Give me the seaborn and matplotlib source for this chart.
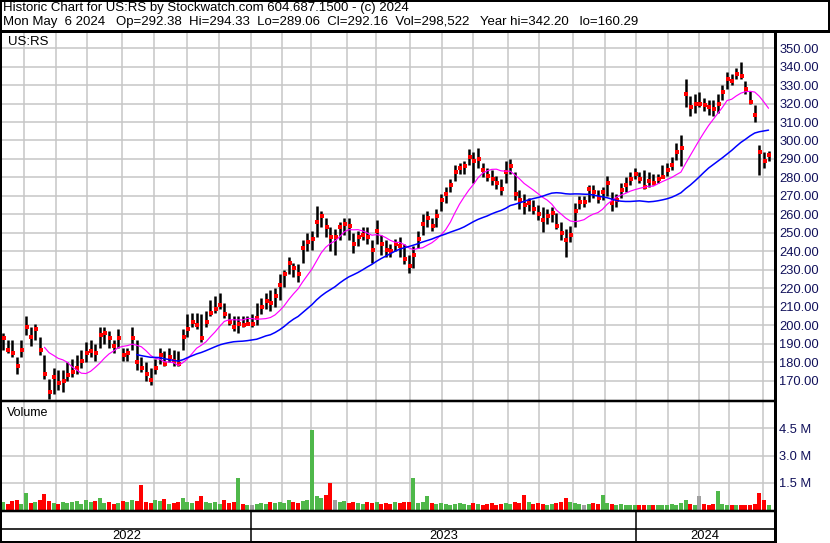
import numpy as np
import pandas as pd
import matplotlib
matplotlib.use('Agg')
import matplotlib.pyplot as plt
import seaborn as sns

########
# Data (one bar = 3 trading days, last bar is May 6 2024)
########
close = [193, 187, 185, 178, 187, 199, 194, 198, 187, 174,
         164, 172, 169, 170, 173, 175, 177, 181, 185, 186,
         185, 195, 196, 193, 189, 193, 184, 185, 193, 180,
         177, 174, 170.5, 177, 184, 179, 183, 181, 179, 194,
         198, 202, 200, 193, 202, 207, 209, 211, 206, 202,
         199, 201, 200, 201, 201, 204, 210, 213, 212, 216,
         222, 228, 234, 231, 228, 242, 245, 247, 256, 259,
         253, 248, 248, 253, 255, 254, 244, 248, 249, 248,
         241, 251, 244, 241, 240, 244, 243, 236, 232, 238,
         247, 255, 258, 254, 259, 268, 271, 276, 283, 285,
         286, 291, 289, 290, 284, 281, 279, 277, 274, 283,
         286, 271, 268, 265, 266, 263, 260, 257, 259, 261,
         254, 250, 246, 249, 262, 267, 267, 274, 272, 269,
         272, 277, 266, 268, 273, 276, 279, 282, 279, 275,
         278, 277, 279, 280, 284, 287, 294, 296, 325, 318,
         320, 320, 319, 318, 317, 320, 326, 333, 332, 336,
         335, 328, 321, 314, 294, 289, 292.16]

high = [196, 192, 192, 183, 192, 205, 199, 201, 194, 184,
        171, 177, 176, 176, 180, 182, 184, 187, 191, 192,
        190, 199, 199, 197, 192, 198, 188, 188, 199, 192,
        183, 180, 177, 182, 188, 186, 188, 187, 186, 198,
        206, 207, 207, 206, 208, 214, 216, 217.5, 212, 207,
        205, 205, 205, 205, 206, 212, 215, 217.5, 219, 220,
        228, 230, 237, 234, 233, 246, 250, 251, 264.5, 262,
        258, 253, 252, 256, 258, 258, 250, 251, 253, 253,
        246, 257, 249, 246, 244, 247, 248, 244, 238, 243,
        251, 260, 262, 258, 263, 271, 275, 279, 287, 288,
        289, 295.5, 294, 296, 288, 285, 284, 281, 279, 289,
        290, 283, 273, 271, 269, 268, 265, 264, 263, 264,
        261, 256, 252, 254, 266, 270, 270, 276, 276, 273,
        275, 281, 272, 271, 277, 280, 283, 285, 283, 284,
        283, 282, 282, 287, 288, 291, 298.6, 303, 333, 324,
        325, 326, 323, 322, 322, 325, 330, 337, 336, 339,
        342.2, 332, 327, 319, 297.6, 294, 294.33]

low = [187, 185, 183, 174, 183, 195, 189, 192, 184, 171,
       160.3, 163, 165, 164, 170, 172, 174, 177, 180, 183,
       181, 188, 190, 188, 185, 188, 181, 181, 187, 176,
       175, 170, 168, 174, 179, 178, 180, 178, 178, 187,
       194, 199, 198, 191, 199, 205, 207, 209, 204, 200,
       197, 196, 199, 200, 199, 200, 206, 209, 208, 210,
       214, 221, 228, 226, 223.6, 234, 240, 241, 248, 253,
       248, 240, 238, 246, 249, 246, 239, 243, 246, 244,
       234, 244, 238, 237, 237, 240, 237, 233, 228.6, 231,
       242, 249, 253, 251, 253, 262, 266, 272, 278, 282,
       282, 287, 277, 285, 280, 278, 276, 274, 270.5, 277,
       282, 268, 263, 260, 262, 260, 257, 250.5, 255, 256,
       252, 246, 237, 245, 253, 263, 264, 267, 269, 266,
       268, 270, 262, 264, 269, 272, 276, 279, 277, 274,
       275, 276, 277, 279.7, 281, 284, 289.5, 286, 318, 313,
       315, 318, 316, 314, 313, 315, 322, 328, 330, 333,
       333, 325, 320, 310, 281.4, 285, 289.06]

# volume, millions of shares
volume = [0.45, 0.35, 0.5, 0.55, 0.35, 0.95, 0.4, 0.45, 0.55, 0.9,
          0.5, 0.4, 0.35, 0.45, 0.4, 0.45, 0.5, 0.35, 0.55, 0.45,
          0.5, 0.65, 0.4, 0.45, 0.35, 0.4, 0.5, 0.45, 0.55, 0.5,
          1.35, 0.45, 0.4, 0.55, 0.5, 0.6, 0.35, 0.4, 0.45, 0.65,
          0.45, 0.4, 0.5, 0.75, 0.45, 0.4, 0.45, 0.35, 0.55, 0.4,
          0.45, 1.75, 0.35, 0.25, 0.3, 0.35, 0.4, 0.35, 0.45, 0.4,
          0.45, 0.4, 0.55, 0.45, 0.4, 0.5, 0.55, 4.4, 0.75, 0.65,
          0.8, 1.5, 0.55, 0.45, 0.5, 0.4, 0.45, 0.4, 0.35, 0.45,
          0.4, 0.45, 0.35, 0.4, 0.35, 0.45, 0.4, 0.45, 0.45, 1.75,
          0.4, 0.45, 0.75, 0.4, 0.35, 0.4, 0.35, 0.3, 0.35, 0.4,
          0.35, 0.3, 0.4, 0.35, 0.3, 0.35, 0.4, 0.3, 0.35, 0.4,
          0.35, 0.45, 0.4, 0.85, 0.45, 0.35, 0.4, 0.35, 0.3, 0.35,
          0.4, 0.45, 0.65, 0.45, 0.4, 0.35, 0.3, 0.35, 0.4, 0.35,
          0.85, 0.4, 0.35, 0.3, 0.35, 0.3, 0.25, 0.3, 0.25, 0.3,
          0.25, 0.3, 0.25, 0.3, 0.25, 0.35, 0.3, 0.4, 0.55, 0.35,
          0.3, 0.75, 0.35, 0.3, 0.35, 1.05, 0.35, 0.3, 0.25, 0.3,
          0.25, 0.3, 0.25, 0.35, 0.95, 0.55, 0.3]

price_ticks = list(range(170, 351, 10))
vol_ticks = [1.5, 3.0, 4.5]
years = ['2022', '2023', '2024']

nyse_holidays = ['2022-05-30', '2022-06-20', '2022-07-04', '2022-09-05', '2022-11-24',
                 '2022-12-26', '2023-01-02', '2023-01-16', '2023-02-20', '2023-04-07',
                 '2023-05-29', '2023-06-19', '2023-07-04', '2023-09-04', '2023-11-23',
                 '2023-12-25', '2024-01-01', '2024-01-15', '2024-02-19', '2024-03-29']

header1 = "Historic Chart for US:RS by Stockwatch.com 604.687.1500 - (c) 2024"
header2 = ("Mon May  6 2024   Op=292.38  Hi=294.33  Lo=289.06  Cl=292.16  "
           "Vol=298,522   Year hi=342.20   lo=160.29")

############
# Prep
############
step = 3
df = pd.DataFrame({'close': close, 'high': high, 'low': low, 'vol': volume})
df['day'] = np.arange(len(df)) * step
df['ma_fast'] = df['close'].rolling(10).mean()
df['ma_slow'] = df['close'].rolling(30).mean()

chg = df['close'].diff().fillna(1)
green, red, grey = '#4fb84a', '#ff0000', '#a0a0a0'
vol_colors = np.where(chg > 0, green, np.where(chg < 0, red, grey))

# trading calendar for month grid and year labels
tdays = pd.bdate_range(end='2024-05-06', periods=df['day'].iloc[-1] + 1,
                       freq='C', holidays=nyse_holidays)
month_pos = np.flatnonzero(np.diff(tdays.month) != 0) + 0.5
year_pos = np.flatnonzero(np.diff(tdays.year) != 0) + 0.5

xmin, xmax = -0.6, 502.2

############
# Figure
############
sns.set_theme(style='white')
plt.rcParams['font.family'] = ['Liberation Sans', 'DejaVu Sans']

W, H = 830, 543
fig = plt.figure(figsize=(W / 100, H / 100), dpi=100)


def px_axes(x0, y0, x1, y1, **kw):
    return fig.add_axes([x0 / W, 1 - y1 / H, (x1 - x0) / W, (y1 - y0) / H], **kw)


grid_kw = dict(color='#c6c6c6', linewidth=1.1)
lab_kw = dict(length=0, pad=3, labelsize=9.3, labelcolor='#10105a')

# price panel
ax_p = px_axes(2, 31, 775, 400)
ax_p.vlines(df['day'], df['low'], df['high'], color='black', linewidth=1.8, zorder=2)
sns.scatterplot(data=df, x=df['day'] + 0.5, y='close', ax=ax_p, marker='s', s=5,
                color='#ff0000', linewidth=0, zorder=3)
sns.lineplot(data=df.dropna(subset=['ma_fast']), x='day', y='ma_fast', ax=ax_p,
             color='#ff00ff', linewidth=0.85, zorder=4)
sns.lineplot(data=df.dropna(subset=['ma_slow']), x='day', y='ma_slow', ax=ax_p,
             color='#0000ff', linewidth=1.1, zorder=4)
ax_p.set_xlim(xmin, xmax)
ax_p.set_ylim(159.7, 359.2)
ax_p.set_xticks(month_pos)
ax_p.set_yticks(price_ticks)
ax_p.set_yticklabels([f'{t:.2f}' for t in price_ticks])
ax_p.yaxis.tick_right()
ax_p.tick_params(axis='y', **lab_kw)
ax_p.tick_params(axis='x', length=0, labelbottom=False)
ax_p.grid(True, **grid_kw)
ax_p.set_axisbelow(True)
ax_p.set_xlabel('')
ax_p.set_ylabel('')
for s in ax_p.spines.values():
    s.set_visible(False)

# volume panel
ax_v = px_axes(2, 401, 775, 510)
ax_v.bar(df['day'], df['vol'], width=2.6, color=vol_colors, linewidth=0, zorder=2)
ax_v.set_xlim(xmin, xmax)
ax_v.set_ylim(0, 6.0)
ax_v.set_xticks(month_pos)
ax_v.set_yticks(vol_ticks)
ax_v.set_yticklabels([f'{t:.1f} M' for t in vol_ticks])
ax_v.yaxis.tick_right()
ax_v.tick_params(axis='y', **lab_kw)
ax_v.tick_params(axis='x', length=0, labelbottom=False)
ax_v.grid(True, **grid_kw)
ax_v.set_axisbelow(True)
for s in ax_v.spines.values():
    s.set_visible(False)

# year strip
ax_b = px_axes(2, 510, 775, 543)
ax_b.set_xlim(xmin, xmax)
ax_b.set_ylim(0, 1)
ax_b.axis('off')
ax_b.vlines(year_pos, 0, 1, color='black', linewidth=1.1)
edges = [xmin] + list(year_pos) + [xmax]
for i, yr in enumerate(years):
    ax_b.text((edges[i] + edges[i + 1]) / 2, 0.22, yr, ha='center', va='center',
              fontsize=9.3, color='black')

# frame and header, drawn in pixel coordinates
ax_f = fig.add_axes([0, 0, 1, 1], zorder=10)
ax_f.set_xlim(0, W)
ax_f.set_ylim(H, 0)
ax_f.axis('off')
ax_f.patch.set_alpha(0)
frame = [((1, 1), (0, H), 2), ((0, W), (1, 1), 2), ((828.5, 828.5), (0, 31), 2),
         ((0, W), (30.5, 30.5), 3), ((775, 775), (30, H), 3),
         ((0, 775), (400.5, 400.5), 2.5), ((0, 775), (511, 511), 2.5),
         ((0, 775), (528.5, 528.5), 1.6), ((0, 775), (542, 542), 2)]
for xs, ys, lw in frame:
    ax_f.plot(xs, ys, color='black', linewidth=lw * 0.72, solid_capstyle='butt')

ax_f.text(3, 8, header1, ha='left', va='center', fontsize=9.5, color='black')
ax_f.text(3, 22, header2, ha='left', va='center', fontsize=9.5, color='black')
ax_f.text(8, 42, 'US:RS', ha='left', va='center', fontsize=9.5, color='black')
ax_f.text(7, 413, 'Volume', ha='left', va='center', fontsize=9, color='black')

fig.savefig('out.png', dpi=100)
